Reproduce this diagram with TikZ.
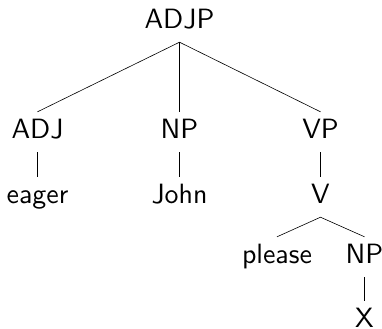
\documentclass[tikz,border=0pt]{standalone}
\usepackage{fontspec}
\newfontfamily\treefont{lmsans10-regular.otf}
\begin{document}
\begin{tikzpicture}[x=1bp,y=-1bp,
  lbl/.style={anchor=base,font=\treefont\fontsize{28}{34}\selectfont,text height=20bp,text depth=8bp,inner ysep=6bp,inner xsep=0pt},
  edge/.style={draw,line width=0.6bp}]
\useasboundingbox (0,0) rectangle (382,329);
\node[lbl] (adjp) at (179.5,28) {ADJP};
\node[lbl] (adj) at (37.5,138) {ADJ};
\node[lbl] (np) at (179.5,138) {NP};
\node[lbl] (vp) at (320.5,138) {VP};
\node[lbl] (eager) at (37.5,203) {eager};
\node[lbl] (john) at (179.5,203) {John};
\node[lbl] (v) at (320.5,203) {V};
\node[lbl] (please) at (277,263) {please};
\node[lbl] (np2) at (364.5,263) {NP};
\node[lbl] (x) at (364.5,327) {X};
\path[edge] (adjp.south) -- (adj.north);
\path[edge] (adjp.south) -- (np.north);
\path[edge] (adjp.south) -- (vp.north);
\path[edge] (adj.south) -- (eager.north);
\path[edge] (np.south) -- (john.north);
\path[edge] (vp.south) -- (v.north);
\path[edge] (v.south) -- (please.north);
\path[edge] (v.south) -- (np2.north);
\path[edge] (np2.south) -- (x.north);
\end{tikzpicture}
\end{document}
